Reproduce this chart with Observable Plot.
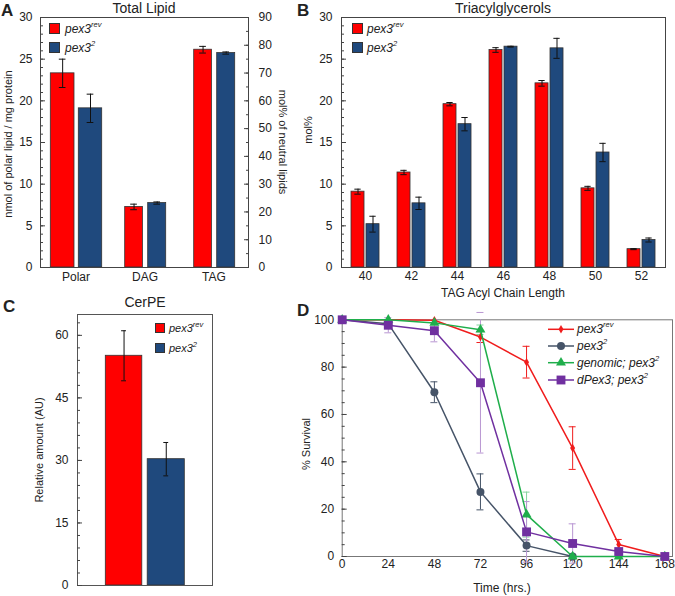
<!DOCTYPE html>
<html><head><meta charset="utf-8">
<script src="https://cdn.jsdelivr.net/npm/d3@7"></script>
<script src="https://cdn.jsdelivr.net/npm/@observablehq/plot@0.6"></script>
<style>
body{margin:0;background:#fff;}
#fig{position:relative;width:675px;height:596px;font-family:"Liberation Sans",Arial,sans-serif;color:#222;overflow:hidden;background:#fff}
.title{position:absolute;font-size:14px;transform:translate(-50%,-50%);white-space:nowrap}
.letter{position:absolute;font-size:17px;font-weight:bold;line-height:1}
.ylab{position:absolute;font-size:11px;white-space:nowrap;transform:translate(-50%,-50%) rotate(-90deg)}
.ylabr{position:absolute;font-size:11px;white-space:nowrap;transform:translate(-50%,-50%) rotate(90deg)}
.xlab{position:absolute;font-size:12px;white-space:nowrap;transform:translate(-50%,-50%)}
.leg{position:absolute;font-size:12px;font-style:italic;white-space:nowrap;transform:translateY(-50%);line-height:1}
.leg sup{font-size:7.5px;vertical-align:top;position:relative;top:-2px}
.sw{position:absolute;border:1px solid #333;box-sizing:border-box}
</style>
</head><body>
<div id="fig"></div>
<script>
// ---------------- DATA ----------------
// Panel A: Total lipid (Polar in nmol/mg protein; DAG, TAG in mol% of neutral lipids)
const catsA = ["Polar", "DAG", "TAG"];
const revA = [23.3, 21.8, 78.4];
const revAErr = [1.7, 1.0, 1.2];
const p2A = [19.1, 23.2, 77.2];
const p2AErr = [1.7, 0.4, 0.4];

// Panel B: Triacylglycerols, mol%
const catsB = ["40", "42", "44", "46", "48", "50", "52"];
const revB = [9.1, 11.4, 19.6, 26.1, 22.1, 9.5, 2.2];
const revBErr = [0.3, 0.26, 0.2, 0.28, 0.34, 0.24, 0.06];
const p2B = [5.2, 7.7, 17.2, 26.5, 26.3, 13.8, 3.3];
const p2BErr = [0.95, 0.74, 0.8, 0.05, 1.2, 1.1, 0.24];

// Panel C: CerPE relative amount
const catsC = ["pex3rev", "pex32"];
const valC = [55.1, 30.3];
const errC = [6.0, 4.0];

// Panel D: survival
const hours = [0, 24, 48, 72, 96, 120, 144, 168];
const revD = [100, 100, 99.8, 92.7, 82.1, 45.8, 5.1, 0];
const revDErr = [0, 0, 0, 2.3, 6.7, 9.0, 2.1, 0];
const p2D = [100, 98.3, 69.4, 27.3, 4.6, 0];
const p2DErr = [0, 0, 4.4, 7.6, 2.4, 0];
const genD = [100, 100, 98.7, 95.8, 17.7, 0, 0, 0];
const genDErr = [0, 0, 0, 2.0, 9.5, 0, 0, 0];
const dpD = [100, 97.7, 95.4, 73.4, 10.4, 5.5, 2.1, 0];
const dpDErr = [0, 3.2, 4.7, 29.7, 12.8, 8.3, 1.0, 0];

// ---------------- STYLE ----------------
const RED = "#ff0000", BLUE = "#1f497d";
const DRED = "#f01c1c", DDARK = "#465468", DGREEN = "#1fae4b", DPURPLE = "#7030a0";
const fig = document.getElementById("fig");
const baseStyle = {fontFamily: "'Liberation Sans', Arial, sans-serif", fontSize: "12px", color: "#222", background: "transparent", overflow: "visible"};

function mount(svg, left, top) {
  svg.style.position = "absolute"; svg.style.left = left + "px"; svg.style.top = top + "px";
  fig.appendChild(svg);
}
function html(cls, x, y, content) {
  const d = document.createElement("div"); d.className = cls;
  d.style.left = x + "px"; d.style.top = y + "px"; d.innerHTML = content; fig.appendChild(d); return d;
}
function swatch(x, y, s, color) {
  const d = document.createElement("div"); d.className = "sw";
  Object.assign(d.style, {left: x + "px", top: y + "px", width: s + "px", height: s + "px", background: color});
  fig.appendChild(d);
}
// bars with error bars in a band cell: inL/inR insets in px, bw bandwidth
function barSet(data, x, yf, errf, color, inL, inR, bw, cap, conv = (d, v) => v) {
  const c = inL + (bw - inL - inR) / 2;
  const lo = d => conv(d, yf(d) - errf(d)), hi = d => conv(d, yf(d) + errf(d));
  return [
    Plot.barY(data, {x, y: d => conv(d, yf(d)), fill: color, stroke: "#333", strokeWidth: 0.8, insetLeft: inL, insetRight: inR}),
    Plot.ruleX(data, {x, y1: lo, y2: hi, stroke: "#111", strokeWidth: 1, dx: c - bw / 2}),
    Plot.tickY(data, {x, y: hi, stroke: "#111", strokeWidth: 1, insetLeft: c - cap, insetRight: bw - c - cap}),
    Plot.tickY(data, {x, y: lo, stroke: "#111", strokeWidth: 1, insetLeft: c - cap, insetRight: bw - c - cap})
  ];
}
function inwardY(anchor, major, minor) {
  const s = anchor === "left" ? 1 : -1;
  return [
    Plot.axisY({anchor, ticks: minor, tickSize: 3, dx: 3 * s, tickFormat: () => "", label: null, stroke: "#444"}),
    Plot.axisY({anchor, ticks: major, tickSize: 5, dx: 5 * s, tickFormat: () => "", label: null, stroke: "#444"})
  ];
}

// ---------------- PANEL A ----------------
{
  const W = 300, H = 300, m = {l: 40, r: 52, t: 17, b: 33};
  const bw = (W - m.l - m.r) / catsA.length;
  const rows = catsA.map((c, i) => ({cat: c, neutral: i > 0, rev: revA[i], revErr: revAErr[i], p2: p2A[i], p2Err: p2AErr[i]}));
  const conv = (d, v) => d.neutral ? v / 3 : v;
  const polar = rows.filter(d => !d.neutral), neutral = rows.filter(d => d.neutral);
  const svg = Plot.plot({
    width: W, height: H, marginLeft: m.l, marginRight: m.r, marginTop: m.t, marginBottom: m.b,
    style: baseStyle,
    x: {type: "band", domain: catsA, padding: 0},
    y: {domain: [0, 30]},
    marks: [
      ...barSet(polar, "cat", d => d.rev, d => d.revErr, RED, 9.3, 36, bw, 3.5, conv),
      ...barSet(polar, "cat", d => d.p2, d => d.p2Err, BLUE, 37.3, 8.3, bw, 3.5, conv),
      ...barSet(neutral, "cat", d => d.rev, d => d.revErr, RED, 14.7, 36.6, bw, 3.5, conv),
      ...barSet(neutral, "cat", d => d.p2, d => d.p2Err, BLUE, 37.7, 13.3, bw, 3.5, conv),
      Plot.frame({stroke: "#444"}),
      ...inwardY("left", d3.range(0, 31, 5), d3.range(0, 31, 1)),
      ...inwardY("right", d3.range(0, 91, 10).map(v => v / 3), d3.range(0, 91, 5).map(v => v / 3)),
      Plot.axisY({anchor: "left", ticks: d3.range(0, 31, 5), tickSize: 0, tickPadding: 8, label: null}),
      Plot.axisY({anchor: "right", ticks: d3.range(0, 91, 10).map(v => v / 3), tickFormat: d => Math.round(d * 3), tickSize: 0, tickPadding: 10, label: null}),
      Plot.axisX({tickSize: 0, tickPadding: 5, label: null})
    ]
  });
  mount(svg, 0, 0);
  html("letter", 1, 2, "A");
  html("title", 144, 8, "Total Lipid");
  html("ylab", 8, 144, "nmol of polar lipid / mg protein");
  html("ylabr", 283, 142, "mol% of neutral lipids");
  swatch(49, 23, 11, RED); swatch(49, 42, 11, BLUE);
  html("leg", 65, 29, "pex3<sup>rev</sup>");
  html("leg", 65, 48, "pex3<sup>2</sup>");
}

// ---------------- PANEL B ----------------
{
  const W = 375, H = 300, m = {l: 41, r: 10, t: 17, b: 33};
  const bw = (W - m.l - m.r) / catsB.length;
  const rows = catsB.map((c, i) => ({cat: c, rev: revB[i], revErr: revBErr[i], p2: p2B[i], p2Err: p2BErr[i]}));
  const svg = Plot.plot({
    width: W, height: H, marginLeft: m.l, marginRight: m.r, marginTop: m.t, marginBottom: m.b,
    style: baseStyle,
    x: {type: "band", domain: catsB, padding: 0},
    y: {domain: [0, 30]},
    marks: [
      ...barSet(rows, "cat", d => d.rev, d => d.revErr, RED, 9, bw - 22.3, bw, 3.3),
      ...barSet(rows, "cat", d => d.p2, d => d.p2Err, BLUE, 24, bw - 37.3, bw, 3.3),
      Plot.frame({stroke: "#444"}),
      ...inwardY("left", d3.range(0, 31, 5), d3.range(0, 31, 1)),
      Plot.axisY({anchor: "left", ticks: d3.range(0, 31, 5), tickSize: 0, tickPadding: 9, label: null}),
      Plot.axisX({tickSize: 0, tickPadding: 4, label: null})
    ]
  });
  mount(svg, 300, 0);
  html("letter", 297, 2, "B");
  html("title", 503, 8, "Triacylglycerols");
  html("ylab", 308, 130, "mol%");
  html("xlab", 503, 293, "TAG Acyl Chain Length");
  swatch(352, 23, 11, RED); swatch(352, 42, 11, BLUE);
  html("leg", 367, 29, "pex3<sup>rev</sup>");
  html("leg", 367, 48, "pex3<sup>2</sup>");
}

// ---------------- PANEL C ----------------
{
  const W = 230, H = 300, m = {l: 77, r: 18, t: 18, b: 11};
  const bw = (W - m.l - m.r) / catsC.length;
  const rows = catsC.map((c, i) => ({cat: c, v: valC[i], e: errC[i]}));
  const svg = Plot.plot({
    width: W, height: H, marginLeft: m.l, marginRight: m.r, marginTop: m.t, marginBottom: m.b,
    style: baseStyle,
    x: {type: "band", domain: catsC, padding: 0, axis: null},
    y: {domain: [0, 65]},
    marks: [
      ...barSet(rows.slice(0, 1), "cat", d => d.v, d => d.e, RED, 27.3, 3.2, bw, 2.7),
      ...barSet(rows.slice(1), "cat", d => d.v, d => d.e, BLUE, 2.2, 27.7, bw, 2.7),
      Plot.frame({stroke: "#555"}),
      ...inwardY("left", d3.range(0, 61, 15), d3.range(0, 64, 3)),
      Plot.axisY({anchor: "left", ticks: d3.range(0, 61, 15), tickSize: 0, tickPadding: 9, label: null})
    ]
  });
  mount(svg, 0, 296);
  html("letter", 3, 298, "C");
  html("title", 145, 302, "CerPE");
  html("ylab", 39, 450, "Relative amount (AU)");
  swatch(155, 323, 10, RED); swatch(155, 343, 10, BLUE);
  const l1 = html("leg", 169, 328, "pex3<sup>rev</sup>"); l1.style.fontSize = "11px";
  const l2 = html("leg", 169, 348, "pex3<sup>2</sup>"); l2.style.fontSize = "11px";
}

// ---------------- PANEL D ----------------
const seriesD = [
  {key: "rev", vals: revD, errs: revDErr, color: DRED, err: DRED, symbol: "diamond", r: 2.6},
  {key: "p2", vals: p2D, errs: p2DErr, color: DDARK, err: DDARK, symbol: "circle", r: 4},
  {key: "gen", vals: genD, errs: genDErr, color: DGREEN, err: "#86d49f", symbol: "triangle", r: 3.7},
  {key: "dp", vals: dpD, errs: dpDErr, color: DPURPLE, err: "#b896d2", symbol: "square", r: 5}
];
{
  const W = 375, H = 300, m = {l: 41.7, r: 3, t: 23.3, b: 40};
  const marks = [
    Plot.frame({stroke: "#777"}),
    ...inwardY("left", d3.range(0, 101, 20), d3.range(0, 101, 5)),
    Plot.axisY({anchor: "left", ticks: d3.range(0, 101, 20), tickSize: 0, tickPadding: 8, label: null}),
    Plot.axisX({ticks: hours, tickSize: 0, tickPadding: 3, label: null})
  ];
  for (const s of seriesD) {
    const rows = s.vals.map((v, i) => ({t: hours[i], v, e: s.errs[i]})).filter(d => d.e > 0);
    marks.push(
      Plot.ruleX(rows, {x: "t", y1: d => d.v - d.e, y2: d => Math.min(100, d.v + d.e), stroke: s.err, strokeWidth: 1}),
      Plot.ruleY(rows, {y: d => d.v - d.e, x1: "t", x2: "t", insetLeft: -3.5, insetRight: -3.5, stroke: s.err, strokeWidth: 1}),
      Plot.ruleY(rows, {y: d => d.v + d.e, x1: "t", x2: "t", insetLeft: -3.5, insetRight: -3.5, stroke: s.err, strokeWidth: 1})
    );
  }
  for (const s of seriesD) {
    const rows = s.vals.map((v, i) => ({t: hours[i], v}));
    marks.push(
      Plot.line(rows, {x: "t", y: "v", stroke: s.color, strokeWidth: 1.5}),
      Plot.dot(rows, {x: "t", y: "v", fill: s.color, stroke: "none", symbol: () => s.symbol, r: s.r})
    );
  }
  const svg = Plot.plot({
    width: W, height: H, marginLeft: m.l, marginRight: m.r, marginTop: m.t, marginBottom: m.b,
    style: baseStyle,
    x: {domain: [0, 172]},
    y: {domain: [0, 100]},
    symbol: {type: "identity"},
    marks
  });
  mount(svg, 300, 296);
  html("letter", 297, 302, "D");
  html("ylab", 306, 444, "% Survival");
  html("xlab", 502, 588, "Time (hrs.)");
  // legend
  const rowsY = [329.3, 346, 362.7, 380];
  const ns = "http://www.w3.org/2000/svg";
  const lg = document.createElementNS(ns, "svg");
  lg.setAttribute("width", 675); lg.setAttribute("height", 596);
  Object.assign(lg.style, {position: "absolute", left: "0px", top: "0px", overflow: "visible"});
  const symMap = {diamond: d3.symbolDiamond, circle: d3.symbolCircle, triangle: d3.symbolTriangle, square: d3.symbolSquare};
  seriesD.forEach((s, i) => {
    const y = rowsY[i];
    const ln = document.createElementNS(ns, "line");
    ln.setAttribute("x1", 548); ln.setAttribute("x2", 574); ln.setAttribute("y1", y); ln.setAttribute("y2", y);
    ln.setAttribute("stroke", s.color); ln.setAttribute("stroke-width", 1.5); lg.appendChild(ln);
    const p = document.createElementNS(ns, "path");
    p.setAttribute("d", d3.symbol(symMap[s.symbol], Math.PI * s.r * s.r)());
    p.setAttribute("transform", `translate(561,${y})`); p.setAttribute("fill", s.color); lg.appendChild(p);
  });
  fig.appendChild(lg);
  const labels = ["pex3<sup>rev</sup>", "pex3<sup>2</sup>", "genomic; pex3<sup>2</sup>", "dPex3; pex3<sup>2</sup>"];
  labels.forEach((t, i) => html("leg", 577, rowsY[i], t));
}
</script>
</body></html>
